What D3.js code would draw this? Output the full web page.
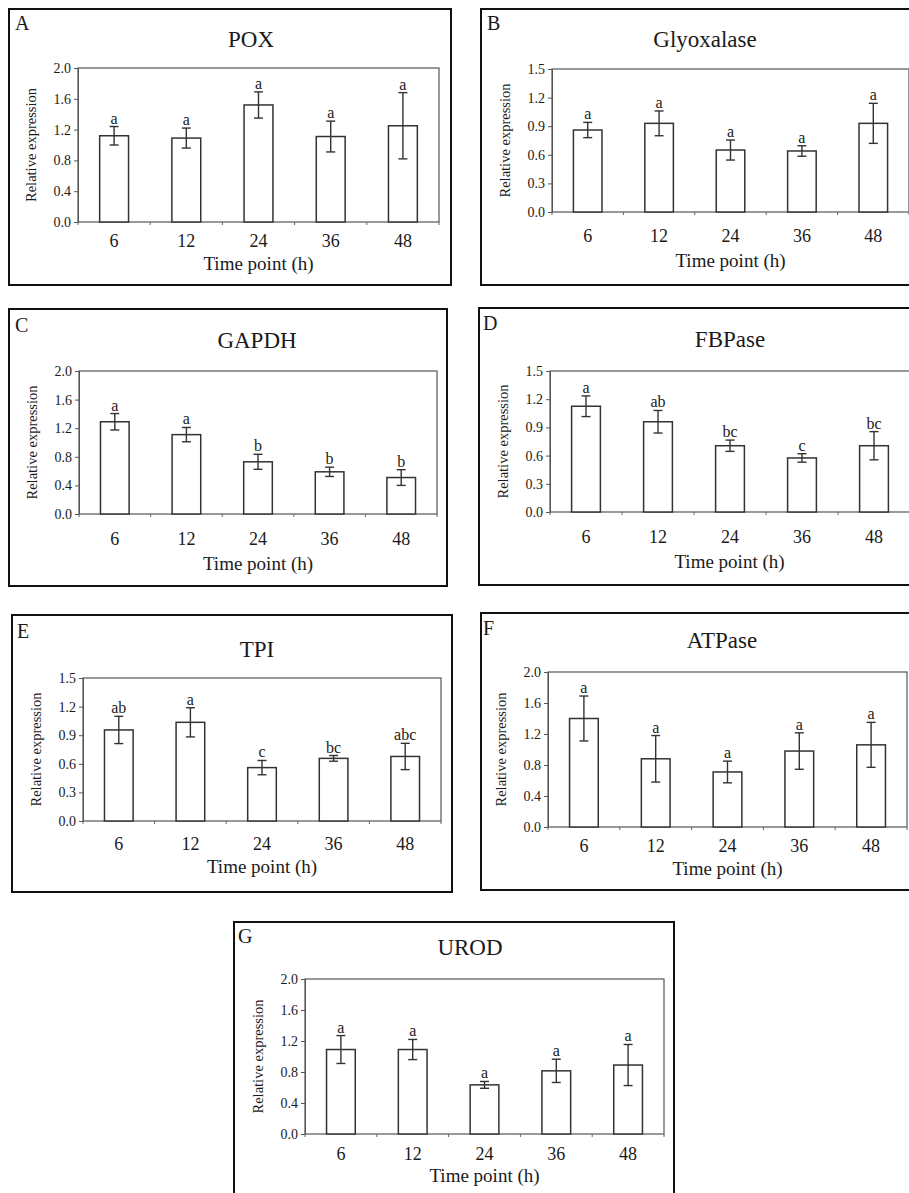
<!DOCTYPE html>
<html>
<head>
<meta charset="utf-8">
<script src="https://cdn.jsdelivr.net/npm/d3@7"></script>
<style>
  body { margin: 0; background: #fff; }
  svg { display: block; }
  svg text { font-family: "Liberation Serif", "Times New Roman", serif; fill: #1a1a1a; }
</style>
</head>
<body>
<div id="fig"></div>
<script>
// Time points shared by every panel
const timePoints = ["6", "12", "24", "36", "48"];

// A - POX
const poxMean = [1.12, 1.09, 1.52, 1.11, 1.25];
const poxErr  = [0.12, 0.13, 0.17, 0.20, 0.43];
const poxSig  = ["a", "a", "a", "a", "a"];
// B - Glyoxalase
const glyMean = [0.86, 0.93, 0.65, 0.64, 0.93];
const glyErr  = [0.08, 0.13, 0.105, 0.055, 0.21];
const glySig  = ["a", "a", "a", "a", "a"];
// C - GAPDH
const gapdhMean = [1.29, 1.11, 0.73, 0.59, 0.51];
const gapdhErr  = [0.115, 0.10, 0.105, 0.065, 0.11];
const gapdhSig  = ["a", "a", "b", "b", "b"];
// D - FBPase
const fbpMean = [1.125, 0.96, 0.705, 0.575, 0.705];
const fbpErr  = [0.11, 0.12, 0.06, 0.045, 0.15];
const fbpSig  = ["a", "ab", "bc", "c", "bc"];
// E - TPI
const tpiMean = [0.955, 1.035, 0.56, 0.657, 0.677];
const tpiErr  = [0.143, 0.153, 0.075, 0.03, 0.138];
const tpiSig  = ["ab", "a", "c", "bc", "abc"];
// F - ATPase
const atpMean = [1.40, 0.88, 0.71, 0.98, 1.06];
const atpErr  = [0.29, 0.30, 0.14, 0.235, 0.29];
const atpSig  = ["a", "a", "a", "a", "a"];
// G - UROD
const urodMean = [1.09, 1.09, 0.634, 0.815, 0.89];
const urodErr  = [0.18, 0.13, 0.044, 0.15, 0.265];
const urodSig  = ["a", "a", "a", "a", "a"];

const yTicks15 = [0, 0.3, 0.6, 0.9, 1.2, 1.5];
const yTicks20 = [0, 0.4, 0.8, 1.2, 1.6, 2.0];

// layout of each panel: outer box, plot frame, title spot, label offsets
const panels = [
  {letter: "A", title: "POX", mean: poxMean, err: poxErr, sig: poxSig, ticks: yTicks20,
   box: [9, 9, 451, 285], plot: [78, 68, 439, 222], tx: 251, ty: 47, lx: 15, ly: 30, tickDy: 25, axDy: 48},
  {letter: "B", title: "Glyoxalase", mean: glyMean, err: glyErr, sig: glySig, ticks: yTicks15,
   box: [481, 9, 960, 285], plot: [552, 69, 909, 212], tx: 705, ty: 47, lx: 487, ly: 30, tickDy: 30, axDy: 55},
  {letter: "C", title: "GAPDH", mean: gapdhMean, err: gapdhErr, sig: gapdhSig, ticks: yTicks20,
   box: [9, 309, 447, 586], plot: [79, 371, 437, 514], tx: 257, ty: 348, lx: 15, ly: 332, tickDy: 31, axDy: 56},
  {letter: "D", title: "FBPase", mean: fbpMean, err: fbpErr, sig: fbpSig, ticks: yTicks15,
   box: [479, 308, 960, 585], plot: [550, 371, 910, 512], tx: 730, ty: 347, lx: 483, ly: 330, tickDy: 31, axDy: 56},
  {letter: "E", title: "TPI", mean: tpiMean, err: tpiErr, sig: tpiSig, ticks: yTicks15,
   box: [12, 615, 452, 892], plot: [83, 678, 441, 821], tx: 257, ty: 657, lx: 17, ly: 638, tickDy: 29, axDy: 52},
  {letter: "F", title: "ATPase", mean: atpMean, err: atpErr, sig: atpSig, ticks: yTicks20,
   box: [481, 613, 960, 890], plot: [548, 672, 907, 827], tx: 722, ty: 648, lx: 483, ly: 635, tickDy: 25, axDy: 48},
  {letter: "G", title: "UROD", mean: urodMean, err: urodErr, sig: urodSig, ticks: yTicks20,
   box: [234, 922, 674, 1240], plot: [305, 979, 664, 1134], tx: 470, ty: 955, lx: 238, ly: 943, tickDy: 26, axDy: 48}
];

const svg = d3.select("#fig").append("svg")
  .attr("width", 909)
  .attr("height", 1193);

panels.forEach(p => {
  const g = svg.append("g");
  const [bx0, by0, bx1, by1] = p.box;
  const [px0, py0, px1, py1] = p.plot;

  // outer panel frame
  g.append("rect")
    .attr("x", bx0).attr("y", by0)
    .attr("width", bx1 - bx0).attr("height", by1 - by0)
    .attr("fill", "none").attr("stroke", "#111").attr("stroke-width", 2);

  g.append("text")
    .attr("x", p.lx).attr("y", p.ly)
    .style("font-size", "20px")
    .text(p.letter);

  g.append("text")
    .attr("x", p.tx).attr("y", p.ty)
    .attr("text-anchor", "middle")
    .style("font-size", "23px")
    .text(p.title);

  const x = d3.scaleBand().domain(timePoints).range([px0, px1]);
  const y = d3.scaleLinear().domain([0, d3.max(p.ticks)]).range([py1, py0]);
  const barW = x.bandwidth() * 0.4;

  // plot frame
  g.append("rect")
    .attr("x", px0).attr("y", py0)
    .attr("width", px1 - px0).attr("height", py1 - py0)
    .attr("fill", "none").attr("stroke", "#555").attr("stroke-width", 1.2);

  // y axis
  const yAxis = g.append("g")
    .attr("transform", "translate(" + px0 + ",0)")
    .call(d3.axisLeft(y).tickValues(p.ticks).tickFormat(d3.format(".1f")).tickSize(4).tickPadding(3));
  yAxis.attr("font-family", null).attr("font-size", null);
  yAxis.select(".domain").attr("stroke", "#555");
  yAxis.selectAll("line").attr("stroke", "#555");
  yAxis.selectAll("text")
    .style("font-size", "14px");

  // x axis: ticks at category boundaries
  const bounds = timePoints.map(t => x(t)).concat([px1]);
  g.selectAll("line.xtick")
    .data(bounds)
    .enter().append("line")
      .attr("class", "xtick")
      .attr("x1", d => d).attr("x2", d => d)
      .attr("y1", py1).attr("y2", py1 + 3)
      .attr("stroke", "#666");

  g.selectAll("text.xlab")
    .data(timePoints)
    .enter().append("text")
      .attr("class", "xlab")
      .attr("x", d => x(d) + x.bandwidth() / 2)
      .attr("y", py1 + p.tickDy)
      .attr("text-anchor", "middle")
      .style("font-size", "18px")
      .text(d => d);

  g.append("text")
    .attr("x", (px0 + Math.min(px1, 909)) / 2)
    .attr("y", py1 + p.axDy)
    .attr("text-anchor", "middle")
    .style("font-size", "19px")
    .text("Time point (h)");

  g.append("text")
    .attr("transform", "translate(" + (px0 - 42) + "," + ((py0 + py1) / 2) + ") rotate(-90)")
    .attr("text-anchor", "middle")
    .style("font-size", "14.5px")
    .text("Relative expression");

  const rows = timePoints.map((t, i) => ({t: t, m: p.mean[i], e: p.err[i], s: p.sig[i]}));
  const cx = d => x(d.t) + x.bandwidth() / 2;

  // bars
  g.selectAll("rect.bar")
    .data(rows)
    .enter().append("rect")
      .attr("class", "bar")
      .attr("x", d => cx(d) - barW / 2)
      .attr("y", d => y(d.m))
      .attr("width", barW)
      .attr("height", d => y(0) - y(d.m))
      .attr("fill", "#fff")
      .attr("stroke", "#333")
      .attr("stroke-width", 1.5);

  // error bars
  const eb = g.selectAll("g.err")
    .data(rows)
    .enter().append("g")
      .attr("class", "err")
      .attr("stroke", "#333")
      .attr("stroke-width", 1.4);
  eb.append("line")
    .attr("x1", cx).attr("x2", cx)
    .attr("y1", d => y(d.m + d.e)).attr("y2", d => y(d.m - d.e));
  eb.append("line")
    .attr("x1", d => cx(d) - 4.5).attr("x2", d => cx(d) + 4.5)
    .attr("y1", d => y(d.m + d.e)).attr("y2", d => y(d.m + d.e));
  eb.append("line")
    .attr("x1", d => cx(d) - 4.5).attr("x2", d => cx(d) + 4.5)
    .attr("y1", d => y(d.m - d.e)).attr("y2", d => y(d.m - d.e));

  // significance letters
  g.selectAll("text.sig")
    .data(rows)
    .enter().append("text")
      .attr("class", "sig")
      .attr("x", cx)
      .attr("y", d => y(d.m + d.e) - 3)
      .attr("text-anchor", "middle")
      .style("font-size", "16px")
      .text(d => d.s);
});
</script>
</body>
</html>
